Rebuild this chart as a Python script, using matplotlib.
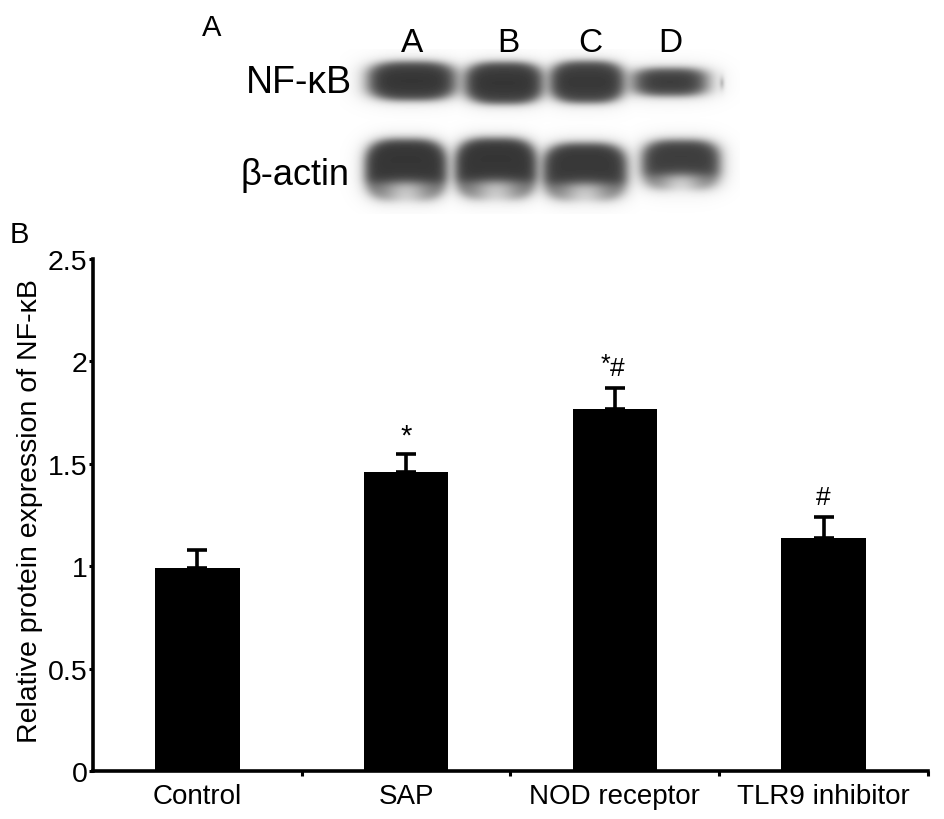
import numpy as np
import matplotlib
matplotlib.use("Agg")
import matplotlib.pyplot as plt

plt.rcParams['font.family'] = ['Liberation Sans', 'DejaVu Sans']

# ---------------- data ----------------
categories = ["Control", "SAP", "NOD receptor", "TLR9 inhibitor"]
means = [0.99, 1.46, 1.77, 1.14]
errors = [0.09, 0.09, 0.10, 0.10]
annotations = ["", "*", "*#", "#"]

lane_labels = ["A", "B", "C", "D"]
blot_rows = ["NF-\u03baB", "\u03b2-actin"]
# band darkness (0 = black, 1 = white)
nfkb_darkness = [0.21, 0.21, 0.22, 0.24]
actin_darkness = [0.21, 0.21, 0.22, 0.24]

W_PX, H_PX = 945, 820
fig = plt.figure(figsize=(W_PX / 100, H_PX / 100), dpi=100)

# ---------------- panel A: blot ----------------
bx0, bx1, by0, by1 = 340, 740, 50, 215
ax_blot = fig.add_axes([bx0 / W_PX, 1 - by1 / H_PX, (bx1 - bx0) / W_PX, (by1 - by0) / H_PX])
xs = np.arange(bx0, bx1) + 0.5
ys = np.arange(by0, by1) + 0.5
xx, yy = np.meshgrid(xs, ys)
img = np.ones(xx.shape)


def band_mask(cx, cy, hw, hh, p=3.0, soft=2.2):
    d = ((np.abs(xx - cx) / hw) ** p + (np.abs(yy - cy) / hh) ** p) ** (1 / p)
    return 1 / (1 + np.exp((d - 1) * min(hw, hh) / soft))


# lane geometry in pixels (cx, cy, half-width, half-height)
nfkb_geom = [(412, 82, 44, 19.5), (504, 84, 39, 21), (587, 83, 37, 21), (670, 83, 37, 14)]
actin_geom = [(406, 171, 41, 31), (496, 170, 41, 31), (585, 173, 42, 29), (681, 166, 39, 25)]

# faint haze of the membrane
haze = np.zeros(xx.shape)
for cx, cy, hw, hh in nfkb_geom + actin_geom:
    haze = np.maximum(haze, band_mask(cx, cy, hw + 8, hh + 8, p=2.5, soft=6))
img = img - 0.05 * haze

for (cx, cy, hw, hh), dk in zip(nfkb_geom, nfkb_darkness):
    m = band_mask(cx, cy, hw, hh)
    core = np.exp(-((yy - cy) / (0.8 * hh)) ** 2)
    val = dk + 0.06 * (1 - core)
    img = img * (1 - m) + m * val

for (cx, cy, hw, hh), dk in zip(actin_geom, actin_darkness):
    m = band_mask(cx, cy, hw, hh, p=3.2, soft=2.5)
    lower = 1 / (1 + np.exp(-(yy - (cy + 0.40 * hh)) / 3.0))
    centre = np.exp(-((xx - cx) / (0.55 * hw)) ** 2)
    val = dk + lower * (0.22 + 0.35 * centre)
    img = img * (1 - m) + m * val

# small speck to the right of lane D
img = img - 0.25 * band_mask(722, 84, 1.5, 4, p=2, soft=1)

img = np.clip(img, 0, 1)
ax_blot.imshow(img, cmap="gray", vmin=0, vmax=1, extent=[bx0, bx1, by1, by0],
               interpolation="bilinear", aspect="auto")
ax_blot.set_xlim(bx0, bx1)
ax_blot.set_ylim(by1, by0)
ax_blot.axis("off")

lane_x = [412, 508, 590, 670]
for lx, lab in zip(lane_x, lane_labels):
    fig.text(lx / W_PX, 1 - 44 / H_PX, lab, fontsize=24, ha="center", va="center")

fig.text(352 / W_PX, 1 - 83 / H_PX, blot_rows[0], fontsize=27, ha="right", va="center")
fig.text(350 / W_PX, 1 - 185 / H_PX, blot_rows[1], fontsize=26, ha="right", va="baseline")
fig.text(212 / W_PX, 1 - 28 / H_PX, "A", fontsize=21, ha="center", va="center")
fig.text(19 / W_PX, 1 - 235 / H_PX, "B", fontsize=21, ha="center", va="center")

# ---------------- panel B: bar chart ----------------
ax = fig.add_axes([93 / W_PX, 1 - 772 / H_PX, (928 - 93) / W_PX, (772 - 260) / H_PX])
x = np.arange(len(categories))
ax.bar(x, means, width=0.405, color="black", zorder=2)
ax.errorbar(x, means, yerr=[np.zeros(len(errors)), errors], fmt="none",
            ecolor="black", elinewidth=2.6, capsize=7.5, capthick=2.6, zorder=1)

for xi, m, e, a in zip(x, means, errors, annotations):
    if not a:
        continue
    ytxt = m + e + 0.10
    if a == "*":
        ax.text(xi, ytxt - 0.01, "*", ha="center", va="center", fontsize=21)
    elif a == "#":
        ax.text(xi, ytxt, "#", ha="center", va="center", fontsize=19)
    else:
        ax.annotate("*", (xi, ytxt + 0.02), xytext=(-7, 0), textcoords="offset points",
                    ha="center", va="center", fontsize=18)
        ax.annotate("#", (xi, ytxt), xytext=(1.5, 0), textcoords="offset points",
                    ha="center", va="center", fontsize=19)

ax.set_xlim(-0.5, 3.5)
ax.set_ylim(0, 2.5)
ax.set_yticks([0, 0.5, 1, 1.5, 2, 2.5])
ax.set_yticklabels(["0", "0.5", "1", "1.5", "2", "2.5"])
ax.set_xticks(x)
ax.set_xticklabels(categories)
ax.set_xticks([0.5, 1.5, 2.5, 3.5], minor=True)
ax.tick_params(axis="x", which="major", length=0, labelsize=20, pad=9)
ax.tick_params(axis="x", which="minor", length=3.5, width=2.2, direction="out")
ax.tick_params(axis="y", which="major", length=3, width=2.2, labelsize=20.5, pad=1)
for s in ["top", "right"]:
    ax.spines[s].set_visible(False)
for s in ["left", "bottom"]:
    ax.spines[s].set_linewidth(2.6)
ax.set_ylabel("Relative protein expression of NF-\u03baB", fontsize=20.5)
ax.yaxis.set_label_coords(-0.060, 0.51)

fig.savefig("out.png", dpi=100)
